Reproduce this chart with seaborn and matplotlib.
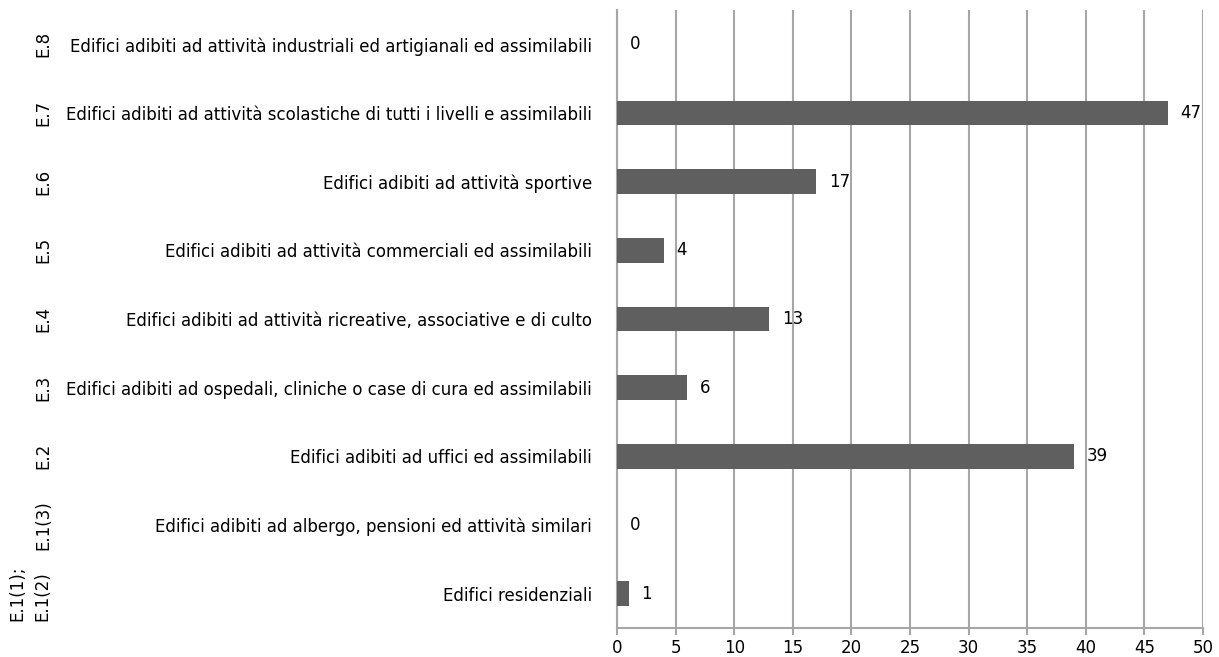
import matplotlib
matplotlib.use("Agg")
import matplotlib.pyplot as plt
import matplotlib.transforms as mtransforms
import seaborn as sns
import pandas as pd

codes = ["E.8", "E.7", "E.6", "E.5", "E.4", "E.3", "E.2", "E.1(3)", "E.1(1);\nE.1(2)"]
categories = [
    "Edifici adibiti ad attività industriali ed artigianali ed assimilabili",
    "Edifici adibiti ad attività scolastiche di tutti i livelli e assimilabili",
    "Edifici adibiti ad attività sportive",
    "Edifici adibiti ad attività commerciali ed assimilabili",
    "Edifici adibiti ad attività ricreative, associative e di culto",
    "Edifici adibiti ad ospedali, cliniche o case di cura ed assimilabili",
    "Edifici adibiti ad uffici ed assimilabili",
    "Edifici adibiti ad albergo, pensioni ed attività similari",
    "Edifici residenziali",
]
values = [0, 47, 17, 4, 13, 6, 39, 0, 1]
x_ticks = [0, 5, 10, 15, 20, 25, 30, 35, 40, 45, 50]

sns.set_theme(style="white")
plt.rcParams["font.family"] = ["DejaVu Sans"]

df = pd.DataFrame({"cat": categories, "val": values})

fig = plt.figure(figsize=(12.19, 6.57), dpi=100)
ax = fig.add_axes([617 / 1219, 1 - 628 / 657, (1203 - 617) / 1219, (628 - 10) / 657])

sns.barplot(data=df, x="val", y="cat", orient="h", color="#5f5f5f",
            saturation=1, width=0.36, ax=ax, zorder=3, linewidth=0)

ax.set_xlim(0, 50)
ax.set_xticks(x_ticks)
ax.set_xticklabels([str(t) for t in x_ticks], fontsize=12, color="black")
ax.set_xlabel("")
ax.set_ylabel("")
ax.grid(axis="x", color="#a6a6a6", linewidth=1.5, zorder=0)
ax.grid(axis="y", visible=False)
for s in ["top", "right"]:
    ax.spines[s].set_visible(False)
ax.spines["bottom"].set_color("#a6a6a6")
ax.spines["bottom"].set_linewidth(1.5)
ax.spines["left"].set_color("#a6a6a6")
ax.spines["left"].set_linewidth(1.5)
ax.tick_params(axis="x", which="major", bottom=True, length=5, width=1.5,
               color="#a6a6a6", pad=3)
ax.tick_params(axis="y", left=False, pad=12)
ax.set_yticks(range(len(categories)))
ax.set_yticklabels(categories, fontsize=12, color="black")

for i, v in enumerate(values):
    ax.annotate(str(v), xy=(v, i), xytext=(9, 0), textcoords="offset points",
                ha="left", va="center", fontsize=12, color="black")

trans = mtransforms.blended_transform_factory(fig.transFigure, ax.transData)
for i, c in enumerate(codes):
    ax.text(30 / 1219 if "\n" in c else 43 / 1219, i, c, transform=trans,
            rotation=90, ha="center", va="center", fontsize=12,
            color="black", linespacing=1.5, multialignment="left")

fig.savefig("out.png", dpi=100)
